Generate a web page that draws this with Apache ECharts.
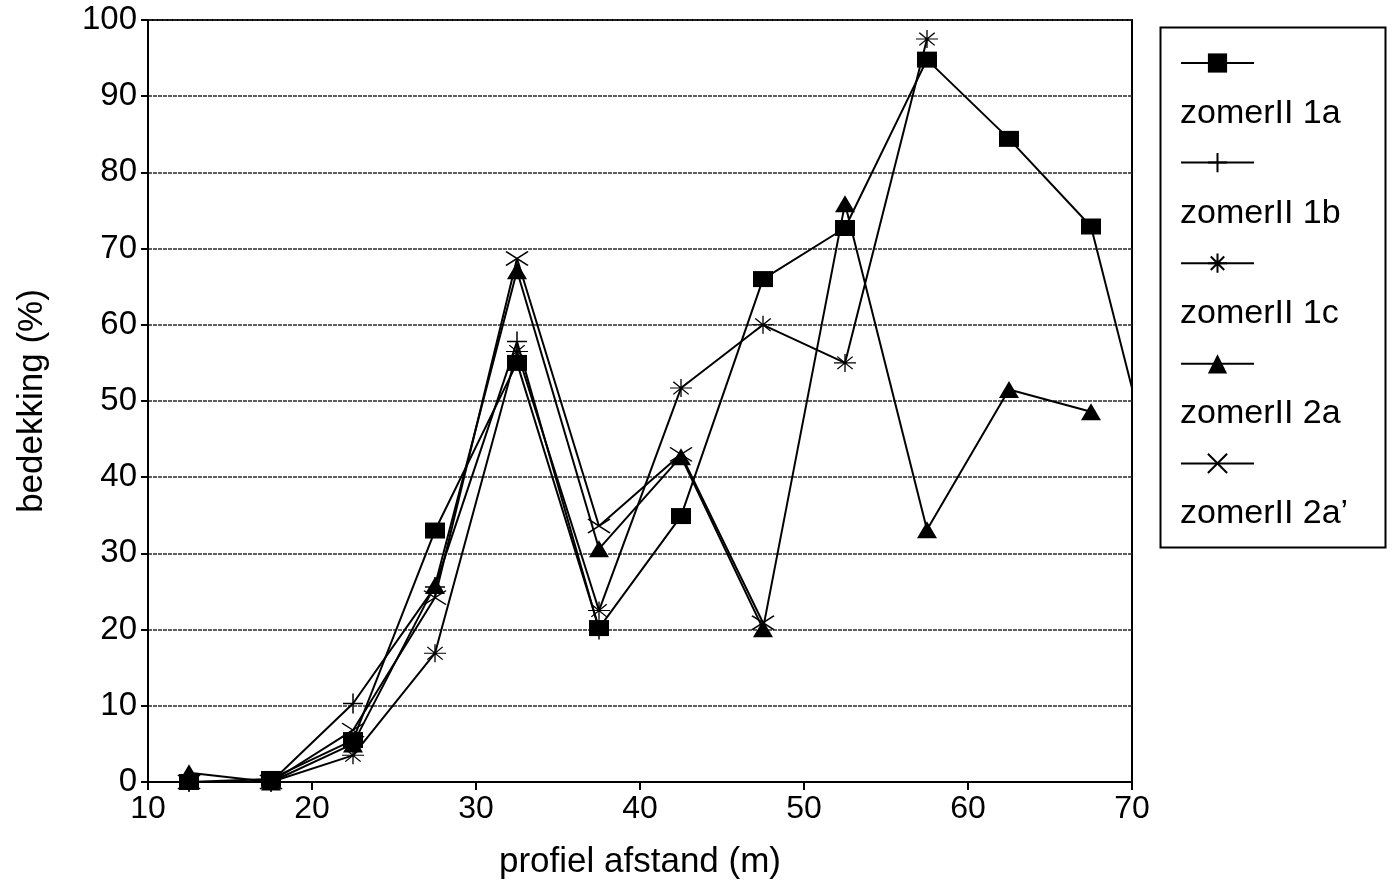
<!DOCTYPE html>
<html>
<head>
<meta charset="utf-8">
<script src="https://cdn.jsdelivr.net/npm/echarts@6/dist/echarts.min.js"></script>
<style>
html,body{margin:0;padding:0;background:#fff;}
#chart{width:1394px;height:889px;}
</style>
</head>
<body>
<div id="chart"></div>
<script>
// ---- data ----
var xPositions = [12.5, 17.5, 22.5, 27.5, 32.5, 37.5, 42.5, 47.5, 52.5, 57.5, 62.5, 67.5, 72.5];
var seriesNames = ['zomerII 1a', 'zomerII 1b', 'zomerII 1c', 'zomerII 2a', "zomerII 2a’"];
var zomer1a = [0, 0.4, 5.5, 33, 55, 20.2, 34.9, 66, 72.7, 94.8, 84.4, 72.9, 30.5];
var zomer1b = [0, 0, 10.3, 25.6, 57.8, 20];
var zomer1c = [0, 0, 3.5, 16.9, 56.5, 22.5, 51.7, 60, 55, 97.5];
var zomer2a = [1.2, 0, 5, 25.8, 67.1, 30.6, 42.7, 20.1, 75.9, 33.1, 51.5, 48.6];
var zomer2aPrime = [0, 0, 6.8, 24.2, 68.7, 33.6, 43, 20.9];
var xTicks = [10, 20, 30, 40, 50, 60, 70];
var yTicks = [0, 10, 20, 30, 40, 50, 60, 70, 80, 90, 100];

function pairs(vals) {
  return vals.map(function (v, i) { return [xPositions[i], v]; });
}

var FONT = "'Liberation Sans', Arial, Helvetica, sans-serif";
var plusPath = 'path://M5,0L5,10M0,5L10,5';
var starPath = 'path://M5,0L5,10M0,5L10,5M1.5,1.5L8.5,8.5M1.5,8.5L8.5,1.5';
var xPath = 'path://M0,0L10,10M0,10L10,0';

var styles = [
  { symbol: 'rect', symbolSize: [20, 16], itemStyle: { color: '#000' } },
  { symbol: plusPath, symbolSize: [20, 20], itemStyle: { color: '#000', borderColor: '#000', borderWidth: 1.5 } },
  { symbol: starPath, symbolSize: [22, 18], itemStyle: { color: '#000', borderColor: '#000', borderWidth: 1.2 } },
  { symbol: 'triangle', symbolSize: [20, 17], itemStyle: { color: '#000' } },
  { symbol: xPath, symbolSize: [22, 14], itemStyle: { color: '#000', borderColor: '#000', borderWidth: 1.5 } }
];
var dataSets = [zomer1a, zomer1b, zomer1c, zomer2a, zomer2aPrime];

var series = dataSets.map(function (d, i) {
  return {
    name: seriesNames[i],
    type: 'line',
    data: pairs(d),
    symbol: styles[i].symbol,
    symbolSize: styles[i].symbolSize,
    symbolKeepAspect: false,
    showAllSymbol: true,
    clip: true,
    itemStyle: styles[i].itemStyle,
    lineStyle: { color: '#000', width: 2 },
    animation: false,
    z: 3 + i
  };
});

var chart = echarts.init(document.getElementById('chart'), null, { renderer: 'canvas' });

var legendTexts = seriesNames.map(function (n, i) {
  return {
    type: 'text',
    left: 1180,
    top: 97 + i * 100,
    style: { text: n, font: '34px ' + FONT, fill: '#000' }
  };
});

chart.setOption({
  backgroundColor: '#fff',
  animation: false,
  grid: {
    left: 148, right: 262, top: 20, bottom: 107,
    show: true, borderColor: '#000', borderWidth: 2, backgroundColor: 'transparent'
  },
  xAxis: {
    type: 'value', min: 10, max: 70, interval: 10,
    name: 'profiel afstand (m)', nameLocation: 'middle', nameGap: 63,
    nameTextStyle: { fontFamily: FONT, fontSize: 35, color: '#000' },
    axisLine: { show: true, onZero: false, lineStyle: { color: '#000', width: 2 } },
    axisTick: { show: true, inside: false, length: 8, lineStyle: { color: '#000', width: 2 } },
    axisLabel: { fontFamily: FONT, fontSize: 32, color: '#000', margin: 11 },
    splitLine: { show: false }
  },
  yAxis: {
    type: 'value', min: 0, max: 100, interval: 10,
    name: 'bedekking (%)', nameLocation: 'middle', nameGap: 98, nameRotate: 90,
    nameTextStyle: { fontFamily: FONT, fontSize: 35, color: '#000' },
    axisLine: { show: true, lineStyle: { color: '#000', width: 2 } },
    axisTick: { show: true, inside: false, length: 7, lineStyle: { color: '#000', width: 2 } },
    axisLabel: { fontFamily: FONT, fontSize: 33, color: '#000', margin: 11 },
    splitLine: { show: true, lineStyle: { color: '#2a2a2a', width: 1.5, type: [4, 1] } }
  },
  legend: {
    orient: 'vertical',
    left: 1180, top: 51, padding: 0,
    itemWidth: 73, itemHeight: 24, itemGap: 78,
    data: seriesNames,
    formatter: function () { return ''; },
    textStyle: { fontSize: 1 },
    selectedMode: false
  },
  graphic: [
    {
      type: 'rect', left: 1158, top: 25, z: -1,
      shape: { width: 225, height: 520 },
      style: { fill: 'none', stroke: '#000', lineWidth: 2 }
    }
  ].concat(legendTexts),
  series: series
});
</script>
</body>
</html>
